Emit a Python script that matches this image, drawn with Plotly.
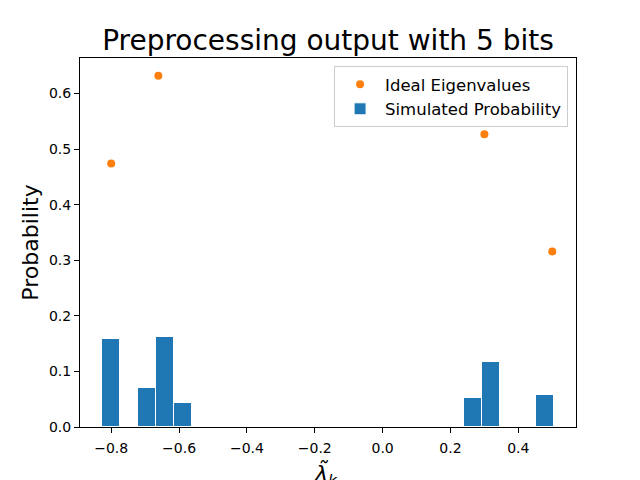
import plotly.graph_objects as go

# estimated eigenvalues from the 5-bit run (bar centres) and their probabilities
bar_x = [-0.800, -0.694, -0.641, -0.588, 0.265, 0.318, 0.479]
bar_prob = [0.158, 0.070, 0.162, 0.043, 0.052, 0.117, 0.057]
bar_width = 0.053

# ideal eigenvalues and their weights
ideal_x = [-0.800, -0.661, 0.300, 0.500]
ideal_y = [0.474, 0.632, 0.527, 0.316]

blue = "#1f77b4"
orange = "#ff7f0e"

fig = go.Figure()
fig.add_trace(go.Scatter(
    x=ideal_x, y=ideal_y, mode="markers", name="Ideal Eigenvalues",
    marker=dict(color=orange, size=8),
))
fig.add_trace(go.Bar(
    x=bar_x, y=bar_prob, width=bar_width, name="Simulated Probability",
    marker=dict(color=blue, line=dict(color="white", width=1)),
))

axis_style = dict(
    showline=True, linecolor="black", linewidth=1, mirror=True,
    showgrid=False, zeroline=False, automargin=False,
    ticks="outside", ticklen=5, tickcolor="black",
    tickfont=dict(size=14, color="black"),
)

# the page body adds an 8px offset, so the figure is 8px smaller and margins are trimmed
fig.update_layout(
    width=632, height=472,
    margin=dict(l=72, r=64, t=50, b=53),
    paper_bgcolor="white", plot_bgcolor="white",
    font=dict(family="DejaVu Sans", color="black"),
    title=dict(text="Preprocessing output with 5 bits", x=0.5, xref="paper", xanchor="center",
               y=0.932, yanchor="middle", font=dict(size=28)),
    showlegend=True,
    legend=dict(x=0.984, y=0.978, xanchor="right", yanchor="top",
                bgcolor="rgba(255,255,255,0.8)", bordercolor="#cccccc", borderwidth=1,
                font=dict(size=16.5), tracegroupgap=0, itemwidth=40),
    bargap=0,
)
# x-axis label as an annotation so it can sit low without pushing the margin
fig.add_annotation(text="<i>λ̃</i><sub><i>k</i></sub>", xref="paper", yref="paper",
                   x=0.495, y=0, xanchor="center", yanchor="top", yshift=-30,
                   showarrow=False, font=dict(size=22))
fig.update_xaxes(range=[-0.892, 0.570], tickvals=[-0.8, -0.6, -0.4, -0.2, 0.0, 0.2, 0.4],
                 tickformat=".1f", ticklabelstandoff=3, **axis_style)
fig.update_yaxes(range=[0, 0.664], tickvals=[0.0, 0.1, 0.2, 0.3, 0.4, 0.5, 0.6],
                 tickformat=".1f",
                 title=dict(text="Probability", font=dict(size=22), standoff=4),
                 **axis_style)

fig.write_html("out.html")
